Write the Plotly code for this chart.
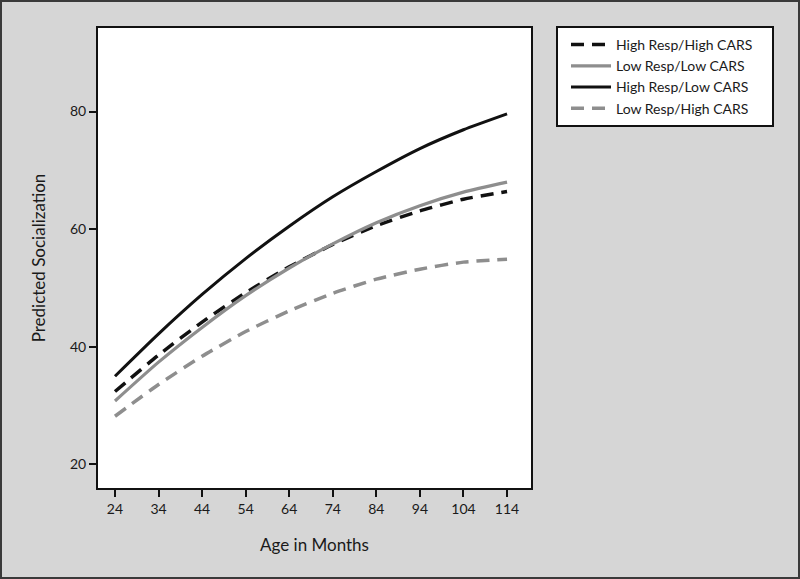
import plotly.graph_objects as go

ages = [24, 34, 44, 54, 64, 74, 84, 94, 104, 114]
high_resp_high_cars = [32.4, 38.6, 44.2, 49.2, 53.6, 57.4, 60.6, 63.1, 65.1, 66.4]
low_resp_low_cars = [30.8, 37.4, 43.3, 48.7, 53.4, 57.5, 61.1, 64.0, 66.3, 68.0]
high_resp_low_cars = [35.0, 42.2, 48.9, 55.0, 60.5, 65.5, 69.8, 73.7, 76.9, 79.6]
low_resp_high_cars = [28.2, 33.6, 38.4, 42.6, 46.1, 49.1, 51.5, 53.2, 54.4, 54.9]

x_ticks = [24, 34, 44, 54, 64, 74, 84, 94, 104, 114]
y_ticks = [20, 40, 60, 80]

W, H = 800, 579
L, R, T, B = 98, 269, 28, 91

BLACK = "#111111"
GRAY = "#8e8e8e"
series = [
    ("High Resp/High CARS", high_resp_high_cars, BLACK, "13px,8px", 3.5),
    ("Low Resp/Low CARS", low_resp_low_cars, GRAY, "solid", 3.2),
    ("High Resp/Low CARS", high_resp_low_cars, BLACK, "solid", 3.0),
    ("Low Resp/High CARS", low_resp_high_cars, GRAY, "13px,8px", 3.5),
]

fig = go.Figure()
for name, vals, col, dash, w in series:
    fig.add_trace(go.Scatter(
        x=ages, y=vals, name=name, mode="lines",
        line=dict(color=col, dash=dash, width=w, shape="spline", smoothing=0.6),
    ))

font = dict(family="Lato, 'Open Sans', sans-serif", color="#1a1a1a")

pw = W - L - R
ph = H - T - B


def px_x(px):
    return (px - L) / pw


def px_y(py):
    return (H - B - py) / ph


# outer frame
fig.add_shape(type="rect", xref="paper", yref="paper",
              x0=px_x(1), x1=px_x(W - 1), y0=px_y(H - 1), y1=px_y(1),
              line=dict(color="#3a3a3a", width=2), layer="below")
# legend box
fig.add_shape(type="rect", xref="paper", yref="paper",
              x0=px_x(557), x1=px_x(773), y0=px_y(126), y1=px_y(27),
              line=dict(color="#111111", width=2), fillcolor="white", layer="below")

fig.update_layout(
    width=W, height=H,
    margin=dict(l=L, r=R, t=T, b=B, pad=0),
    paper_bgcolor="#d6d6d6",
    plot_bgcolor="white",
    font=dict(size=14, **font),
    showlegend=True,
    legend=dict(
        x=px_x(566), y=px_y(29), xanchor="left", yanchor="top",
        bgcolor="rgba(0,0,0,0)", borderwidth=0, itemwidth=40,
        font=dict(size=14, **font), tracegroupgap=0,
    ),
    xaxis=dict(
        range=[20.1, 119.5], tickvals=x_ticks, ticktext=[str(v) for v in x_ticks],
        showgrid=False, zeroline=False, showline=True, linecolor="#111111",
        linewidth=2, mirror=True, ticks="outside", ticklen=7, tickwidth=2,
        tickcolor="#111111", tickfont=dict(size=14, **font),
        title=dict(text="Age in Months", font=dict(size=17, **font), standoff=23),
    ),
    yaxis=dict(
        range=[16.0, 94.2], tickvals=y_ticks, ticktext=[str(v) for v in y_ticks],
        showgrid=False, zeroline=False, showline=True, linecolor="#111111",
        linewidth=2, mirror=True, ticks="outside", ticklen=7, tickwidth=2,
        tickcolor="#111111", tickfont=dict(size=14, **font),
        title=dict(text="Predicted Socialization", font=dict(size=17, **font), standoff=20),
    ),
)

fig.write_html("out.html", config={"displayModeBar": False},
               post_script="document.body.style.margin='0px';")
